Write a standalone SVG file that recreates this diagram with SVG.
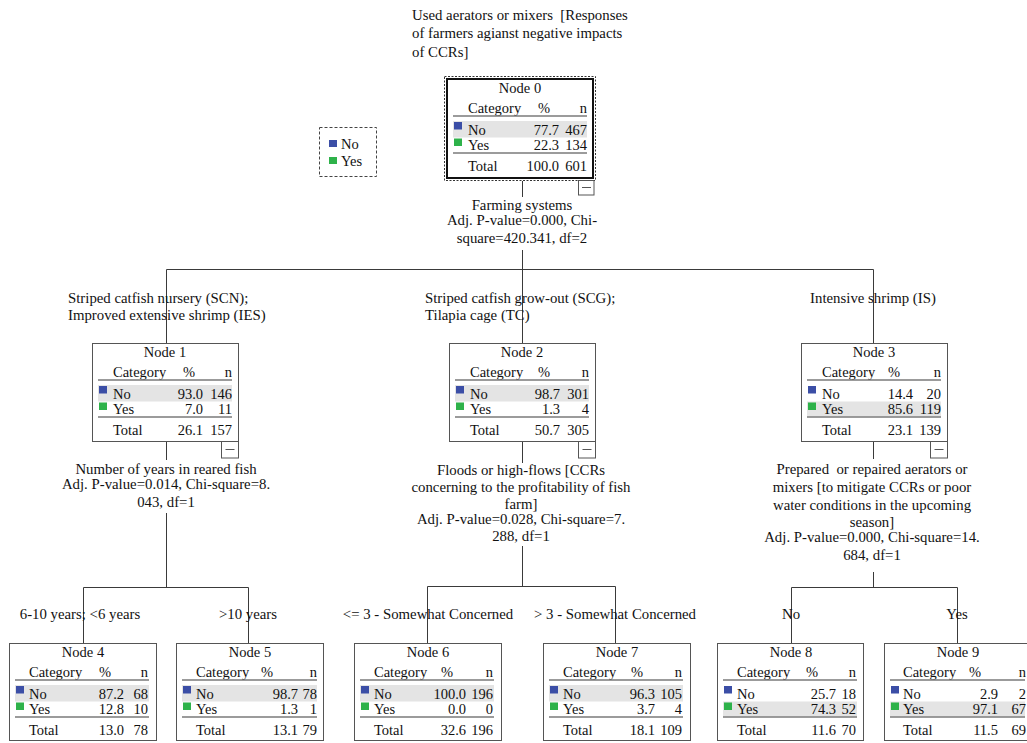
<svg xmlns="http://www.w3.org/2000/svg" width="1027" height="743" viewBox="0 0 1027 743">
<style>
text{font-family:"Liberation Serif","Times New Roman",serif;fill:#111}
.lbl{font-size:14.8px}
.t{font-size:14.5px}
.m{text-anchor:middle}
.e{text-anchor:end}
.box{fill:#fff;stroke:#555;stroke-width:1}
.hl{fill:#e4e4e4}
.hr{stroke:#7a7a7a;stroke-width:1.6;fill:none}
.b{fill:#3b4ea6}
.g{fill:#2eb24a}
.c{stroke:#3a3a3a;stroke-width:1;fill:none}
.mb{fill:#fff;stroke:#555;stroke-width:1}
.md{stroke:#555;stroke-width:1}
</style>
<rect width="1027" height="743" fill="#fff"/>

<g id="title">
<text class="lbl" x="412" y="20">Used aerators or mixers&#160; [Responses</text>
<text class="lbl" x="412" y="38">of farmers agianst negative impacts</text>
<text class="lbl" x="412" y="57">of CCRs]</text>
</g>

<g id="legend">
<rect x="319.5" y="127.5" width="57" height="49" fill="#fff" stroke="#444" stroke-dasharray="3,2"/>
<rect class="b" x="329" y="140" width="8" height="7"/>
<text class="t" x="341" y="149">No</text>
<rect class="g" x="329" y="157" width="8" height="7"/>
<text class="t" x="341" y="166">Yes</text>
</g>

<g id="connectors">
<path class="c" d="M522.5 181V197M522.5 250V269.5M166.5 269.5H873.5M166.5 269.5V343M522.5 269.5V343M873.5 269.5V343"/>
<path class="c" d="M166.5 441V460M166.5 513V587.5M83.5 587.5H248.5M83.5 587.5V643M248.5 587.5V643"/>
<path class="c" d="M522.5 441V463M522.5 546V586.5M427.5 586.5H615.5M427.5 586.5V643M615.5 586.5V643"/>
<path class="c" d="M873.5 441V459M873.5 572V587.5M791.5 587.5H957.5M791.5 587.5V643M957.5 587.5V643"/>
</g>

<g id="labels">
<text class="lbl m" x="522" y="210">Farming systems</text>
<text class="lbl m" x="522" y="225">Adj. P-value=0.000, Chi-</text>
<text class="lbl m" x="522" y="243">square=420.341, df=2</text>

<text class="lbl" x="68" y="303">Striped catfish nursery (SCN);</text>
<text class="lbl" x="68" y="320">Improved extensive shrimp (IES)</text>
<text class="lbl" x="425" y="303">Striped catfish grow-out (SCG);</text>
<text class="lbl" x="425" y="320">Tilapia cage (TC)</text>
<text class="lbl m" x="873" y="303">Intensive shrimp (IS)</text>

<text class="lbl m" x="166" y="474">Number of years in reared fish</text>
<text class="lbl m" x="166" y="489">Adj. P-value=0.014, Chi-square=8.</text>
<text class="lbl m" x="166" y="507">043, df=1</text>

<text class="lbl m" x="521" y="475">Floods or high-flows [CCRs</text>
<text class="lbl m" x="521" y="492">concerning to the profitability of fish</text>
<text class="lbl m" x="521" y="509">farm]</text>
<text class="lbl m" x="521" y="524">Adj. P-value=0.028, Chi-square=7.</text>
<text class="lbl m" x="521" y="541">288, df=1</text>

<text class="lbl m" x="872" y="474">Prepared&#160; or repaired aerators or</text>
<text class="lbl m" x="872" y="492">mixers [to mitigate CCRs or poor</text>
<text class="lbl m" x="872" y="510">water conditions in the upcoming</text>
<text class="lbl m" x="872" y="527">season]</text>
<text class="lbl m" x="872" y="542">Adj. P-value=0.000, Chi-square=14.</text>
<text class="lbl m" x="872" y="560">684, df=1</text>

<text class="lbl m" x="80" y="619">6-10 years; &lt;6 years</text>
<text class="lbl m" x="248" y="619">&gt;10 years</text>
<text class="lbl m" x="428" y="619">&lt;= 3 - Somewhat Concerned</text>
<text class="lbl m" x="615" y="619">&gt; 3 - Somewhat Concerned</text>
<text class="lbl m" x="791" y="619">No</text>
<text class="lbl m" x="957" y="619">Yes</text>
</g>

<g id="node0">
<rect x="444.5" y="76.5" width="151" height="104" fill="#fff" stroke="#333" stroke-dasharray="2,1.5"/>
<rect x="447" y="79" width="146" height="99" fill="#fff" stroke="#111" stroke-width="2"/>
<g transform="translate(447,79)">
<rect class="hl" x="6" y="42" width="134" height="16.5"/>
<text class="t m" x="73" y="14">Node 0</text>
<text class="t" x="21" y="34">Category</text><text class="t m" x="97" y="34">%</text><text class="t e" x="140" y="34">n</text>
<line class="hr" x1="6" y1="37" x2="140" y2="37"/>
<rect class="b" x="7" y="43" width="8" height="7.5"/>
<text class="t" x="21" y="55.5">No</text><text class="t e" x="112" y="55.5">77.7</text><text class="t e" x="140" y="55.5">467</text>
<rect class="g" x="7" y="59.5" width="8" height="7.5"/>
<text class="t" x="21" y="71">Yes</text><text class="t e" x="112" y="71">22.3</text><text class="t e" x="140" y="71">134</text>
<line class="hr" x1="6" y1="74" x2="140" y2="74"/>
<text class="t" x="21" y="91.5">Total</text><text class="t e" x="112" y="91.5">100.0</text><text class="t e" x="140" y="91.5">601</text>
</g>
<rect class="mb" x="578.5" y="180.5" width="15.5" height="14.5"/><line class="md" x1="582" y1="187.5" x2="591" y2="187.5"/>
</g>

<g id="node1" transform="translate(92,343)">
<rect class="box" x="0.5" y="0.5" width="146" height="98"/>
<rect class="hl" x="6" y="42" width="134" height="16.5"/>
<text class="t m" x="73" y="14">Node 1</text>
<text class="t" x="21" y="34">Category</text><text class="t m" x="97" y="34">%</text><text class="t e" x="140" y="34">n</text>
<line class="hr" x1="6" y1="37" x2="140" y2="37"/>
<rect class="b" x="7" y="43" width="8" height="7.5"/>
<text class="t" x="21" y="55.5">No</text><text class="t e" x="111" y="55.5">93.0</text><text class="t e" x="140" y="55.5">146</text>
<rect class="g" x="7" y="59.5" width="8" height="7.5"/>
<text class="t" x="21" y="71">Yes</text><text class="t e" x="111" y="71">7.0</text><text class="t e" x="140" y="71">11</text>
<line class="hr" x1="6" y1="74" x2="140" y2="74"/>
<text class="t" x="21" y="91.5">Total</text><text class="t e" x="111" y="91.5">26.1</text><text class="t e" x="140" y="91.5">157</text>
<rect class="mb" x="129.5" y="98.5" width="17" height="16.5"/><line class="md" x1="133.5" y1="106.5" x2="142.5" y2="106.5"/>
</g>

<g id="node2" transform="translate(449,343)">
<rect class="box" x="0.5" y="0.5" width="146" height="98"/>
<rect class="hl" x="6" y="42" width="134" height="16.5"/>
<text class="t m" x="73" y="14">Node 2</text>
<text class="t" x="21" y="34">Category</text><text class="t m" x="95" y="34">%</text><text class="t e" x="140" y="34">n</text>
<line class="hr" x1="6" y1="37" x2="140" y2="37"/>
<rect class="b" x="7" y="43" width="8" height="7.5"/>
<text class="t" x="21" y="55.5">No</text><text class="t e" x="111" y="55.5">98.7</text><text class="t e" x="140" y="55.5">301</text>
<rect class="g" x="7" y="59.5" width="8" height="7.5"/>
<text class="t" x="21" y="71">Yes</text><text class="t e" x="111" y="71">1.3</text><text class="t e" x="140" y="71">4</text>
<line class="hr" x1="6" y1="74" x2="140" y2="74"/>
<text class="t" x="21" y="91.5">Total</text><text class="t e" x="111" y="91.5">50.7</text><text class="t e" x="140" y="91.5">305</text>
<rect class="mb" x="129.5" y="98.5" width="17" height="16.5"/><line class="md" x1="133.5" y1="106.5" x2="142.5" y2="106.5"/>
</g>

<g id="node3" transform="translate(801,343)">
<rect class="box" x="0.5" y="0.5" width="146" height="98"/>
<rect class="hl" x="6" y="58.5" width="134" height="15"/>
<text class="t m" x="73" y="14">Node 3</text>
<text class="t" x="21" y="34">Category</text><text class="t m" x="93" y="34">%</text><text class="t e" x="140" y="34">n</text>
<line class="hr" x1="6" y1="37" x2="140" y2="37"/>
<rect class="b" x="7" y="43" width="8" height="7.5"/>
<text class="t" x="21" y="55.5">No</text><text class="t e" x="112" y="55.5">14.4</text><text class="t e" x="140" y="55.5">20</text>
<rect class="g" x="7" y="59.5" width="8" height="7.5"/>
<text class="t" x="21" y="71">Yes</text><text class="t e" x="112" y="71">85.6</text><text class="t e" x="140" y="71">119</text>
<line class="hr" x1="6" y1="74" x2="140" y2="74"/>
<text class="t" x="21" y="91.5">Total</text><text class="t e" x="112" y="91.5">23.1</text><text class="t e" x="140" y="91.5">139</text>
<rect class="mb" x="129.5" y="98.5" width="17" height="16.5"/><line class="md" x1="133.5" y1="106.5" x2="142.5" y2="106.5"/>
</g>

<g id="node4" transform="translate(9,643)">
<rect class="box" x="0.5" y="0.5" width="147" height="97"/>
<rect class="hl" x="6" y="42" width="134" height="16.5"/>
<text class="t m" x="74" y="14">Node 4</text>
<text class="t" x="20" y="34">Category</text><text class="t m" x="96" y="34">%</text><text class="t e" x="139" y="34">n</text>
<line class="hr" x1="6" y1="37" x2="140" y2="37"/>
<rect class="b" x="7" y="43" width="8" height="7.5"/>
<text class="t" x="20" y="55.5">No</text><text class="t e" x="115" y="55.5">87.2</text><text class="t e" x="139" y="55.5">68</text>
<rect class="g" x="7" y="59.5" width="8" height="7.5"/>
<text class="t" x="20" y="71">Yes</text><text class="t e" x="115" y="71">12.8</text><text class="t e" x="139" y="71">10</text>
<line class="hr" x1="6" y1="74" x2="140" y2="74"/>
<text class="t" x="20" y="91.5">Total</text><text class="t e" x="115" y="91.5">13.0</text><text class="t e" x="139" y="91.5">78</text>
</g>

<g id="node5" transform="translate(176,643)">
<rect class="box" x="0.5" y="0.5" width="147" height="97"/>
<rect class="hl" x="6" y="42" width="135" height="16.5"/>
<text class="t m" x="74" y="14">Node 5</text>
<text class="t" x="20" y="34">Category</text><text class="t m" x="91" y="34">%</text><text class="t e" x="141" y="34">n</text>
<line class="hr" x1="6" y1="37" x2="141" y2="37"/>
<rect class="b" x="7" y="43" width="8" height="7.5"/>
<text class="t" x="20" y="55.5">No</text><text class="t e" x="122" y="55.5">98.7</text><text class="t e" x="141" y="55.5">78</text>
<rect class="g" x="7" y="59.5" width="8" height="7.5"/>
<text class="t" x="20" y="71">Yes</text><text class="t e" x="122" y="71">1.3</text><text class="t e" x="141" y="71">1</text>
<line class="hr" x1="6" y1="74" x2="141" y2="74"/>
<text class="t" x="20" y="91.5">Total</text><text class="t e" x="122" y="91.5">13.1</text><text class="t e" x="141" y="91.5">79</text>
</g>

<g id="node6" transform="translate(354,643)">
<rect class="box" x="0.5" y="0.5" width="147" height="97"/>
<rect class="hl" x="6" y="42" width="134" height="16.5"/>
<text class="t m" x="74" y="14">Node 6</text>
<text class="t" x="20" y="34">Category</text><text class="t m" x="93" y="34">%</text><text class="t e" x="139" y="34">n</text>
<line class="hr" x1="6" y1="37" x2="140" y2="37"/>
<rect class="b" x="7" y="43" width="8" height="7.5"/>
<text class="t" x="20" y="55.5">No</text><text class="t e" x="112" y="55.5">100.0</text><text class="t e" x="139" y="55.5">196</text>
<rect class="g" x="7" y="59.5" width="8" height="7.5"/>
<text class="t" x="20" y="71">Yes</text><text class="t e" x="112" y="71">0.0</text><text class="t e" x="139" y="71">0</text>
<line class="hr" x1="6" y1="74" x2="140" y2="74"/>
<text class="t" x="20" y="91.5">Total</text><text class="t e" x="112" y="91.5">32.6</text><text class="t e" x="139" y="91.5">196</text>
</g>

<g id="node7" transform="translate(543,643)">
<rect class="box" x="0.5" y="0.5" width="147" height="97"/>
<rect class="hl" x="6" y="42" width="134" height="16.5"/>
<text class="t m" x="74" y="14">Node 7</text>
<text class="t" x="20" y="34">Category</text><text class="t m" x="94" y="34">%</text><text class="t e" x="139" y="34">n</text>
<line class="hr" x1="6" y1="37" x2="140" y2="37"/>
<rect class="b" x="7" y="43" width="8" height="7.5"/>
<text class="t" x="20" y="55.5">No</text><text class="t e" x="112" y="55.5">96.3</text><text class="t e" x="139" y="55.5">105</text>
<rect class="g" x="7" y="59.5" width="8" height="7.5"/>
<text class="t" x="20" y="71">Yes</text><text class="t e" x="112" y="71">3.7</text><text class="t e" x="139" y="71">4</text>
<line class="hr" x1="6" y1="74" x2="140" y2="74"/>
<text class="t" x="20" y="91.5">Total</text><text class="t e" x="112" y="91.5">18.1</text><text class="t e" x="139" y="91.5">109</text>
</g>

<g id="node8" transform="translate(717,643)">
<rect class="box" x="0.5" y="0.5" width="146" height="97"/>
<rect class="hl" x="6" y="58.5" width="134" height="15"/>
<text class="t m" x="74" y="14">Node 8</text>
<text class="t" x="20" y="34">Category</text><text class="t m" x="95" y="34">%</text><text class="t e" x="139" y="34">n</text>
<line class="hr" x1="6" y1="37" x2="140" y2="37"/>
<rect class="b" x="7" y="43" width="8" height="7.5"/>
<text class="t" x="20" y="55.5">No</text><text class="t e" x="119" y="55.5">25.7</text><text class="t e" x="139" y="55.5">18</text>
<rect class="g" x="7" y="59.5" width="8" height="7.5"/>
<text class="t" x="20" y="71">Yes</text><text class="t e" x="119" y="71">74.3</text><text class="t e" x="139" y="71">52</text>
<line class="hr" x1="6" y1="74" x2="140" y2="74"/>
<text class="t" x="20" y="91.5">Total</text><text class="t e" x="119" y="91.5">11.6</text><text class="t e" x="139" y="91.5">70</text>
</g>

<g id="node9" transform="translate(884,643)">
<rect class="box" x="0.5" y="0.5" width="147" height="97"/>
<rect class="hl" x="6" y="58.5" width="135" height="15"/>
<text class="t m" x="74" y="14">Node 9</text>
<text class="t" x="19" y="34">Category</text><text class="t m" x="91" y="34">%</text><text class="t e" x="142" y="34">n</text>
<line class="hr" x1="6" y1="37" x2="141" y2="37"/>
<rect class="b" x="7" y="43" width="8" height="7.5"/>
<text class="t" x="19" y="55.5">No</text><text class="t e" x="114" y="55.5">2.9</text><text class="t e" x="142" y="55.5">2</text>
<rect class="g" x="7" y="59.5" width="8" height="7.5"/>
<text class="t" x="19" y="71">Yes</text><text class="t e" x="114" y="71">97.1</text><text class="t e" x="142" y="71">67</text>
<line class="hr" x1="6" y1="74" x2="141" y2="74"/>
<text class="t" x="19" y="91.5">Total</text><text class="t e" x="114" y="91.5">11.5</text><text class="t e" x="142" y="91.5">69</text>
</g>
</svg>
